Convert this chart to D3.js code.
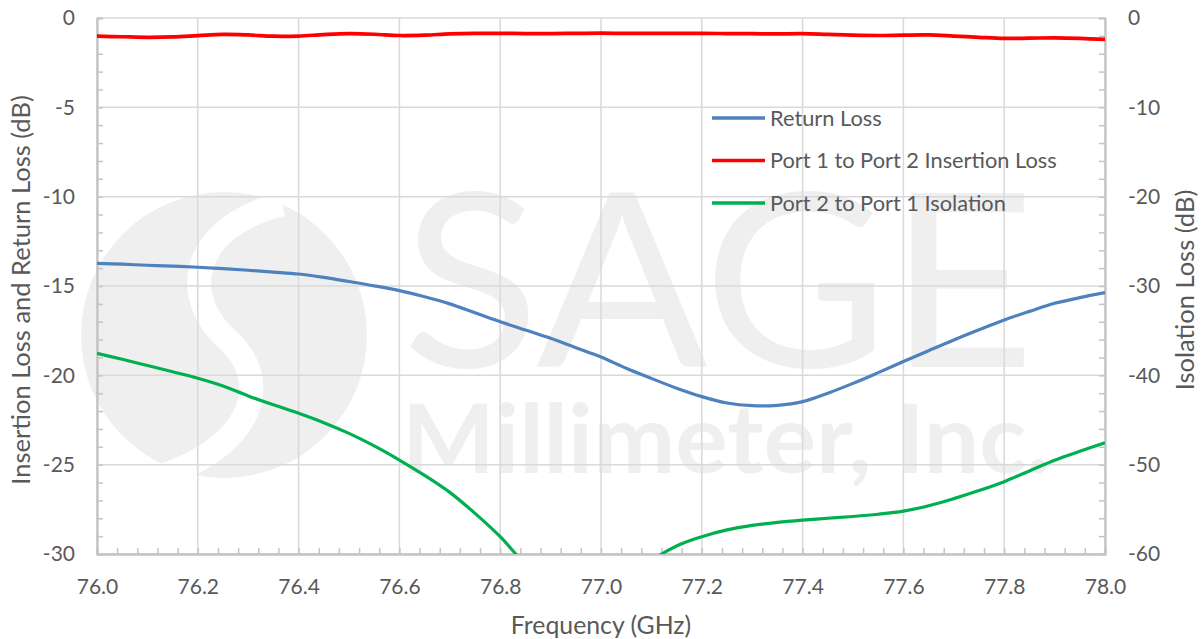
<!DOCTYPE html>
<html>
<head>
<meta charset="utf-8">
<script src="https://cdn.jsdelivr.net/npm/d3@7"></script>
<style>
  body { margin: 0; background: #fff; }
  svg { font-family: Lato, "Noto Sans", sans-serif; }
</style>
</head>
<body>
<svg id="chart" width="1204" height="639"></svg>
<script>
// frequency points (GHz), shared by all three traces
const freq = d3.range(0, 41).map(i => +(76 + i * 0.05).toFixed(2));

// Return loss (dB), left axis
const returnLoss = [-13.73, -13.78, -13.84, -13.89, -13.95, -14.03, -14.12, -14.22, -14.33, -14.52,
  -14.75, -14.99, -15.26, -15.6, -16.0, -16.5, -17.0, -17.46, -17.93, -18.45,
  -18.97, -19.6, -20.17, -20.72, -21.19, -21.55, -21.70, -21.68, -21.47, -21.0,
  -20.45, -19.85, -19.23, -18.62, -18.02, -17.45, -16.9, -16.42, -15.97, -15.65, -15.37];

// Port 1 to Port 2 insertion loss (dB), left axis
const insertionLoss = [-1.02, -1.05, -1.08, -1.06, -0.99, -0.92, -0.95, -1.02, -1.01, -0.93,
  -0.88, -0.91, -0.98, -0.96, -0.89, -0.86, -0.86, -0.87, -0.87, -0.86,
  -0.85, -0.86, -0.86, -0.86, -0.86, -0.87, -0.88, -0.89, -0.88, -0.92,
  -0.96, -0.98, -0.96, -0.95, -1.01, -1.08, -1.14, -1.13, -1.11, -1.14, -1.20];

// Port 2 to Port 1 isolation (dB), right axis
const isolation = [-37.54, -38.2, -38.9, -39.6, -40.33, -41.2, -42.3, -43.3, -44.25, -45.3,
  -46.5, -47.9, -49.48, -51.2, -53.1, -55.45, -58.06, -61.2, -64.0, -65.5,
  -66.0, -63.8, -60.8, -59.1, -58.06, -57.3, -56.8, -56.45, -56.2, -56.0,
  -55.8, -55.55, -55.2, -54.6, -53.8, -52.9, -51.9, -50.7, -49.5, -48.5, -47.54];

const xTicks = [76.0, 76.2, 76.4, 76.6, 76.8, 77.0, 77.2, 77.4, 77.6, 77.8, 78.0];
const leftTicks = [0, -5, -10, -15, -20, -25, -30];
const rightTicks = [0, -10, -20, -30, -40, -50, -60];

const seriesNames = ["Return Loss", "Port 1 to Port 2 Insertion Loss", "Port 2 to Port 1 Isolation"];
const seriesColors = ["#4f81bd", "#ff0000", "#00b050"];

class LossChart {
  constructor(_config) {
    this.config = {
      parentElement: _config.parentElement,
      containerWidth: _config.containerWidth || 1204,
      containerHeight: _config.containerHeight || 639,
      margin: _config.margin || { top: 18, bottom: 85, right: 99, left: 97 }
    }
    this.initVis();
  }

  initVis() {
    let vis = this;
    vis.width = vis.config.containerWidth - vis.config.margin.left - vis.config.margin.right;
    vis.height = vis.config.containerHeight - vis.config.margin.top - vis.config.margin.bottom;

    vis.svg = d3.select(vis.config.parentElement);
    // watermark sits underneath everything
    vis.watermark = vis.svg.append("g").attr("fill", "#efefef");
    vis.chart = vis.svg.append("g")
      .attr("transform", `translate(${vis.config.margin.left},${vis.config.margin.top})`);

    vis.xScale = d3.scaleLinear().domain([76, 78]).range([0, vis.width]);
    vis.yLeft = d3.scaleLinear().domain([-30, 0]).range([vis.height, 0]);
    vis.yRight = d3.scaleLinear().domain([-60, 0]).range([vis.height, 0]);

    vis.render();
  }

  render() {
    let vis = this;
    const gridColor = "#d9d9d9";
    const axisColor = "#c4c4c4";
    const textColor = "#595959";

    // SAGE logo watermark
    const wm = vis.watermark;
    wm.append("circle").attr("cx", 224).attr("cy", 335).attr("r", 143);
    wm.append("path")
      .attr("d", "M282,204 C188,228 180,298 228,340 C268,376 262,440 165,475")
      .attr("fill", "none").attr("stroke", "#fff").attr("stroke-width", 24);
    wm.append("text")
      .attr("x", 402).attr("y", 367)
      .attr("font-size", 243).attr("font-weight", 400)
      .attr("textLength", 633).attr("lengthAdjust", "spacingAndGlyphs")
      .text("SAGE");
    wm.append("text")
      .attr("x", 402).attr("y", 473)
      .attr("font-size", 95).attr("font-weight", 700)
      .attr("textLength", 648).attr("lengthAdjust", "spacingAndGlyphs")
      .text("Millimeter, Inc.");

    // gridlines
    vis.chart.append("g")
      .selectAll("line")
      .data(xTicks)
      .join("line")
        .attr("x1", d => vis.xScale(d)).attr("x2", d => vis.xScale(d))
        .attr("y1", 0).attr("y2", vis.height)
        .attr("stroke", gridColor).attr("stroke-width", 1.5);
    vis.chart.append("g")
      .selectAll("line")
      .data(leftTicks)
      .join("line")
        .attr("x1", 0).attr("x2", vis.width)
        .attr("y1", d => vis.yLeft(d)).attr("y2", d => vis.yLeft(d))
        .attr("stroke", gridColor).attr("stroke-width", 1.5);

    // axes: labels only, minor ticks drawn inside the plot
    const xAxis = d3.axisBottom(vis.xScale).tickValues(xTicks).tickFormat(d3.format(".1f")).tickSize(0).tickPadding(25);
    const minorX = d3.axisTop(vis.xScale).tickValues(d3.range(0, 51).map(i => 76 + i * 0.04)).tickSize(6).tickFormat("");
    const yLeftAxis = d3.axisLeft(vis.yLeft).tickValues(leftTicks).tickFormat(d => String(d)).tickSize(0).tickPadding(22);
    const minorYL = d3.axisRight(vis.yLeft).tickValues(d3.range(-30, 1)).tickSize(6).tickFormat("");
    const yRightAxis = d3.axisRight(vis.yRight).tickValues(rightTicks).tickFormat(d => String(d)).tickSize(0).tickPadding(23);
    const minorYR = d3.axisLeft(vis.yRight).tickValues(d3.range(-60, 1, 2)).tickSize(6).tickFormat("");

    const styleAxis = g => {
      g.selectAll("path.domain").attr("stroke", axisColor).attr("stroke-width", 1.8);
      g.selectAll("line").attr("stroke", axisColor).attr("stroke-width", 1.5);
      g.selectAll("text").attr("fill", textColor).attr("font-size", 21).attr("font-family", "Lato, sans-serif");
    };

    vis.chart.append("g").attr("transform", `translate(0,${vis.height})`).call(xAxis).call(styleAxis);
    vis.chart.append("g").attr("transform", `translate(0,${vis.height})`).call(minorX).call(styleAxis);
    vis.chart.append("g").call(yLeftAxis).call(styleAxis);
    vis.chart.append("g").call(minorYL).call(styleAxis);
    vis.chart.append("g").attr("transform", `translate(${vis.width},0)`).call(yRightAxis).call(styleAxis);
    vis.chart.append("g").attr("transform", `translate(${vis.width},0)`).call(minorYR).call(styleAxis);

    // clip traces to plot area
    vis.svg.append("defs").append("clipPath").attr("id", "plotClip")
      .append("rect").attr("x", 0).attr("y", -3).attr("width", vis.width).attr("height", vis.height + 3);

    const lineLeft = d3.line()
      .x((d, i) => vis.xScale(freq[i]))
      .y(d => vis.yLeft(d))
      .curve(d3.curveCatmullRom);
    const lineRight = d3.line()
      .x((d, i) => vis.xScale(freq[i]))
      .y(d => vis.yRight(d))
      .curve(d3.curveCatmullRom);

    const traces = vis.chart.append("g").attr("clip-path", "url(#plotClip)");
    traces.append("path").datum(returnLoss).attr("d", lineLeft)
      .attr("fill", "none").attr("stroke", seriesColors[0]).attr("stroke-width", 3.2);
    traces.append("path").datum(insertionLoss).attr("d", lineLeft)
      .attr("fill", "none").attr("stroke", seriesColors[1]).attr("stroke-width", 3.7);
    traces.append("path").datum(isolation).attr("d", lineRight)
      .attr("fill", "none").attr("stroke", seriesColors[2]).attr("stroke-width", 3.2);

    // legend
    const legend = vis.svg.append("g").attr("transform", "translate(712,118)");
    const items = legend.selectAll("g")
      .data(seriesNames)
      .join("g")
        .attr("transform", (d, i) => `translate(0,${i * 42.5})`);
    items.append("line")
      .attr("x1", 0).attr("x2", 53).attr("y1", 0).attr("y2", 0)
      .attr("stroke", (d, i) => seriesColors[i]).attr("stroke-width", 3.5);
    items.append("text")
      .attr("x", 58).attr("y", 0).attr("dy", "0.35em")
      .attr("fill", textColor).attr("font-size", 21.8)
      .text(d => d);

    // axis titles
    vis.svg.append("text")
      .attr("x", vis.config.margin.left + vis.width / 2).attr("y", 634)
      .attr("text-anchor", "middle").attr("fill", textColor).attr("font-size", 24.8)
      .text("Frequency (GHz)");
    vis.svg.append("text")
      .attr("transform", `translate(30,${vis.config.margin.top + vis.height / 2 + 4}) rotate(-90)`)
      .attr("text-anchor", "middle").attr("fill", textColor).attr("font-size", 25.5)
      .text("Insertion Loss and Return Loss (dB)");
    vis.svg.append("text")
      .attr("transform", `translate(1194,${vis.config.margin.top + vis.height / 2 + 4}) rotate(-90)`)
      .attr("text-anchor", "middle").attr("fill", textColor).attr("font-size", 25.5)
      .text("Isolation Loss (dB)");
  }
}

new LossChart({ parentElement: "#chart" });
</script>
</body>
</html>
